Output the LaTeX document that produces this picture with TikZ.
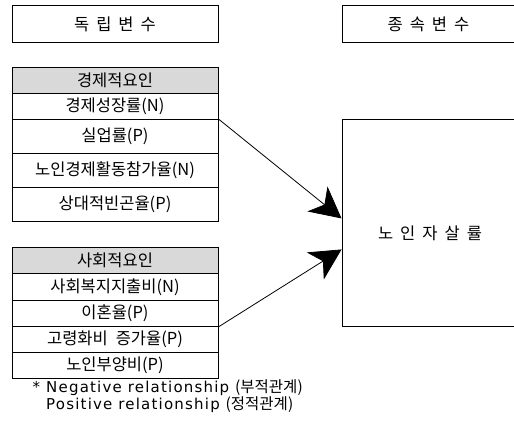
\documentclass[tikz,border=0pt]{standalone}
\usepackage{fontspec}
\newfontfamily\kr{Noto Sans CJK KR}
\newfontfamily\lat[LetterSpace=8]{DejaVu Sans}
\usetikzlibrary{arrows.meta}
\definecolor{hdr}{RGB}{217,217,217}
\newcommand\krtext{\kr\fontsize{16.5}{19}\selectfont\spaceskip=8pt\xspaceskip=8pt\relax}
\newcommand\krwide{\kr\fontsize{16.5}{19}\selectfont\spaceskip=7pt\xspaceskip=7pt\relax}
\begin{document}
\begin{tikzpicture}[x=1pt,y=-1pt,
  box/.style={draw=black, line width=0.9pt, inner sep=0pt, anchor=north},
  cell/.style={box, minimum width=206pt, font=\krtext},
  hcell/.style={cell, fill=hdr},
  titlebox/.style={box, font=\krwide},
  link/.style={line width=0.8pt, -{Stealth[length=31pt,width=32pt,inset=9pt]}}]
\useasboundingbox (0,0) rectangle (514,422);
\clip (0,0) rectangle (514,422);
% titles
\node[titlebox, minimum width=206pt, minimum height=37pt] (iv) at (115,5) {독 립 변 수};
\node[titlebox, minimum width=173pt, minimum height=37pt] (dv) at (428.5,5) {종 속 변 수};
% economic factors
\node[hcell, minimum height=26pt] (e0) at (115,67) {경제적요인};
\node[cell, minimum height=26pt] (e1) at (115,93) {경제성장률(N)};
\node[cell, minimum height=34pt] (e2) at (115,119) {실업률(P)};
\node[cell, minimum height=34pt] (e3) at (115,153) {노인경제활동참가율(N)};
\node[cell, minimum height=34pt] (e4) at (115,187) {상대적빈곤율(P)};
% social factors
\node[hcell, minimum height=26pt] (s0) at (115,247) {사회적요인};
\node[cell, minimum height=27pt] (s1) at (115,273) {사회복지지출비(N)};
\node[cell, minimum height=26pt] (s2) at (115,300) {이혼율(P)};
\node[cell, minimum height=26pt] (s3) at (115,326) {고령화비 증가율(P)};
\node[cell, minimum height=26pt] (s4) at (115,352) {노인부양비(P)};
% outcome
\node[box, minimum width=173pt, minimum height=207pt] (out) at (428.5,119) {};
\node[font=\krwide, inner sep=0pt] (outlbl) at (430,233) {노 인 자 살 률};
% arrows
\draw[link] (e2.north east) -- ([yshift=4.5pt]out.west);
\draw[link] (s2.south east) -- ([yshift=-26.5pt]out.west);
% note
\node[anchor=west, align=left, inner sep=0pt, font=\fontsize{15}{16.5}\selectfont] (note) at (46,396)
  {{\lat\llap{*\ }Negative relationship }{\kr\fontsize{15.5}{16.5}\selectfont(부적관계)}\\{\lat Positive relationship }{\kr\fontsize{15.5}{16.5}\selectfont(정적관계)}};
\end{tikzpicture}
\end{document}
